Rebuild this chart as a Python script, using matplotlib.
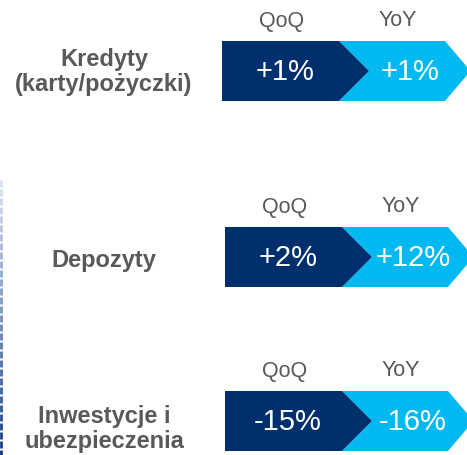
import matplotlib
matplotlib.use("Agg")
import matplotlib.pyplot as plt
import numpy as np
from matplotlib.patches import Polygon

plt.rcParams['font.family'] = ['Liberation Sans', 'DejaVu Sans']

categories = ["Kredyty\n(karty/pożyczki)", "Depozyty", "Inwestycje i\nubezpieczenia"]
qoq = ["+1%", "+2%", "-15%"]
yoy = ["+1%", "+12%", "-16%"]
col_labels = ["QoQ", "YoY"]

# layout in pixels (y downwards)
row_top = [41, 227, 391]
row_left = [222, 225, 225]
label_dy = [0, 3, 7]
row_h = 60
dark_w = 117
light_w = 106
notch = 30

dark = "#002F6E"
light = "#00B9F0"
grey_txt = "#58595B"

fig = plt.figure(figsize=(4.67, 4.55), dpi=100)
ax = fig.add_axes([0, 0, 1, 1])
ax.set_xlim(0, 467)
ax.set_ylim(455, 0)
ax.axis("off")

for i, cat in enumerate(categories):
    t = row_top[i]
    b = t + row_h
    m = (t + b) / 2
    x0 = row_left[i]
    x1 = x0 + dark_w
    x2 = x1 + light_w
    # light chevron (drawn first, dark covers the notch)
    ax.add_patch(Polygon([(x1, t), (x2, t), (x2 + notch * 0.85, m), (x2, b), (x1, b), (x1 + notch, m)],
                         closed=True, fc=light, ec="none"))
    ax.add_patch(Polygon([(x0, t), (x1, t), (x1 + notch, m), (x1, b), (x0, b)],
                         closed=True, fc=dark, ec="none"))
    ax.text(x0 + 63, m + 1, qoq[i], color="white", fontsize=21, ha="center", va="center")
    ax.text(x1 + 71, m + 1, yoy[i], color="white", fontsize=21, ha="center", va="center")
    ax.text(x0 + 60, t - 20, col_labels[0], color=grey_txt, fontsize=15.5, ha="center", va="center")
    ax.text(x1 + 59, t - 20, col_labels[1], color=grey_txt, fontsize=15.5, ha="center", va="center")
    ax.text(104, m + 1 + label_dy[i], cat, color=grey_txt, fontsize=17, fontweight="bold",
            ha="center", va="center", linespacing=1.12)

# dashed gradient line at the left edge
ys = np.arange(180, 456, 9)
c0 = np.array([0.85, 0.89, 0.95])
c1 = np.array([0.05, 0.20, 0.50])
for y in ys:
    f = (y - 180) / 275
    ax.plot([1, 1], [y, min(y + 7, 455)], color=c0 * (1 - f) + c1 * f, lw=2, solid_capstyle="butt")

fig.savefig("out.png", dpi=100)
